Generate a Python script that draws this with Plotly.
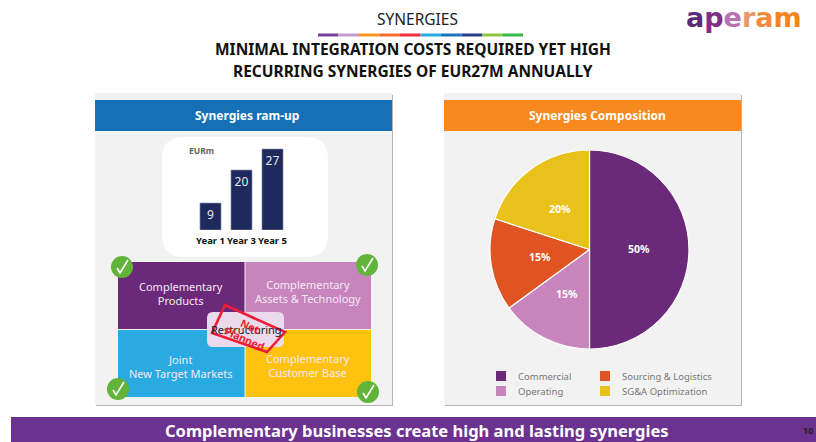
import plotly.graph_objects as go

W, H = 816, 442

# Data
bar_categories = ["Year 1", "Year 3", "Year 5"]
bar_values = [9, 20, 27]
pie_labels = ["Commercial", "Operating", "Sourcing & Logistics", "SG&A Optimization"]
pie_values = [50, 15, 15, 20]
pie_colors = ["#6B2979", "#C884BC", "#E05423", "#E9C11B"]
pie_label_positions = [(639, 249), (567, 294), (540, 257), (560, 209)]
stripe_colors = ["#7B3F98", "#C39BD0", "#F7941D", "#F26B2A", "#EE2E3A",
                 "#29ABE2", "#1A75BC", "#2B3A8C", "#8CC63F", "#39B54A"]
logo_letters = [("a", "#5B2A78"), ("p", "#7E2F86"), ("e", "#B773AE"),
                ("r", "#E59A6A"), ("a", "#F08A3C"), ("m", "#F58220")]
quadrants = [
    (118, 244.5, 262, 329, "#6B2979", "Complementary<br>Products", 181, 293),
    (245.5, 371, 262, 329, "#C884BC", "Complementary<br>Assets & Technology", 308, 291),
    (118, 244.5, 330, 397, "#29ABE2", "Joint<br>New Target Markets", 181, 366),
    (245.5, 371, 330, 397, "#FFC20E", "Complementary<br>Customer Base", 308, 365),
]
checks = [(122, 267), (367, 265), (118, 389), (368, 392)]
legend_items = [(0, 501, 376), (1, 501, 391), (2, 605, 376), (3, 605, 391)]

FONT = "Noto Sans"
px = lambda x: x / W
py = lambda y: 1 - y / H

fig = go.Figure()
shapes, ann = [], []


def P(x, y):
    return f"{px(x):.5f},{py(y):.5f}"


def path(d, fill=None, line=None, lw=0, layer="below"):
    s = dict(type="path", xref="paper", yref="paper", path=d, line=dict(width=lw, color=line or "rgba(0,0,0,0)"), layer=layer)
    if fill:
        s["fillcolor"] = fill
    shapes.append(s)


def rect(x0, y0, x1, y1, fill, layer="below"):
    shapes.append(dict(type="rect", xref="paper", yref="paper", x0=px(x0), x1=px(x1),
                       y0=py(y1), y1=py(y0), fillcolor=fill, line=dict(width=0), layer=layer))


def rrect(x0, y0, x1, y1, r, fill, layer="below"):
    d = (f"M{P(x0+r,y0)} L{P(x1-r,y0)} Q{P(x1,y0)} {P(x1,y0+r)} L{P(x1,y1-r)} Q{P(x1,y1)} {P(x1-r,y1)} "
         f"L{P(x0+r,y1)} Q{P(x0,y1)} {P(x0,y1-r)} L{P(x0,y0+r)} Q{P(x0,y0)} {P(x0+r,y0)} Z")
    path(d, fill=fill, layer=layer)


def text(x, y, s, size, color, bold=False, angle=0, anchor="center", family=FONT):
    ann.append(dict(xref="paper", yref="paper", x=px(x), y=py(y), text=f"<b>{s}</b>" if bold else s,
                    showarrow=False, xanchor=anchor, yanchor="middle", textangle=angle,
                    font=dict(family=family, size=size, color=color), align="center"))


# Panels
for x0, x1, head, title, cx in [(95, 392, "#1570B8", "Synergies ram-up", 248),
                                (444, 741, "#F7891F", "Synergies Composition", 597)]:
    rect(x0 + 1, 95, x1 + 1, 406, "#B5B5B5")
    rect(x0, 93, x1, 405, "#F2F2F2")
    rect(x0, 100, x1, 131, head)
    text(cx, 115.5, title, 12, "white", bold=True)

rrect(162, 137, 328, 257, 22, "white")

# Stripe
for i, c in enumerate(stripe_colors):
    rect(318 + i * 20.5, 33.5, 318 + (i + 1) * 20.5, 36.5, c)

# Header texts
text(418, 19, "SYNERGIES", 15.5, "#222222")
text(413, 49, "MINIMAL INTEGRATION COSTS REQUIRED YET HIGH", 15.5, "#111111", bold=True)
text(413, 71, "RECURRING SYNERGIES OF EUR27M ANNUALLY", 15.5, "#111111", bold=True)
logo = "".join(f'<span style="color:{c}">{l}</span>' for l, c in logo_letters)
text(744, 18, logo, 27, "#6B2979", bold=True, family="DejaVu Sans")

# Bottom banner
rect(11, 417, 816, 442, "#6B3290")
text(417, 430, "Complementary businesses create high and lasting synergies", 16.5, "white", bold=True)
text(808, 430, "10", 9, "#222222", bold=True)

# Quadrants
for x0, x1, y0, y1, c, label, tx, ty in quadrants:
    rect(x0, y0, x1, y1, c)
    text(tx, ty, label, 11, "#F4E9F4")

fig.add_trace(go.Bar(x=bar_categories, y=bar_values, marker=dict(color="#1F2A5C", line=dict(color="#8E97B8", width=0.6)),
                     text=bar_values, textposition="inside", insidetextanchor="end",
                     textfont=dict(family=FONT, size=12, color="#E8E8F0"), cliponaxis=False,
                     showlegend=False, hoverinfo="skip", width=0.68))

fig.add_trace(go.Pie(labels=pie_labels, values=pie_values, sort=False, direction="clockwise",
                     rotation=0, marker=dict(colors=pie_colors, line=dict(color="white", width=1.2)),
                     textinfo="none",
                     domain=dict(x=[px(490), px(689)], y=[py(349), py(150)]), showlegend=False,
                     hoverinfo="skip", automargin=False))
for v, (lx, ly) in zip(pie_values, pie_label_positions):
    text(lx, ly, f"{v}%", 10.5, "white", bold=True)

# Centre box and stamp (drawn above the quadrants)
rrect(207, 312, 284, 347, 6, "#EBD9EC", layer="above")
text(246, 329, "Restructuring", 11, "#222222")
path(f"M{P(225,305)} L{P(285,332)} L{P(267,352)} L{P(212,333)} Z", line="#EE1C35", lw=2.6, layer="above")
text(248, 333, "Not<br>Planned", 10.5, "#EE1C35", bold=True, angle=24)

# Check marks
for cx, cy in checks:
    r = 11
    shapes.append(dict(type="circle", xref="paper", yref="paper", x0=px(cx - r), x1=px(cx + r),
                       y0=py(cy + r), y1=py(cy - r), fillcolor="#62B33A", line=dict(width=0), layer="above"))
    path(f"M{P(cx-5,cy+1)} L{P(cx-2,cy+6)} L{P(cx+6,cy-7)}", line="white", lw=1.6, layer="above")

# Legend
for idx, x, y in legend_items:
    rect(x - 5, y - 5, x + 5, y + 5, pie_colors[idx])
    text(x + 15, y, pie_labels[idx], 9.5, "#777777", anchor="left")

text(201, 150, "EURm", 8.5, "#666666", bold=True)

fig.update_layout(
    width=W, height=H, margin=dict(l=0, r=0, t=0, b=0, pad=0, autoexpand=False), autosize=False,
    paper_bgcolor="white", plot_bgcolor="rgba(0,0,0,0)",
    font=dict(family=FONT),
    xaxis=dict(domain=[px(195), px(288)], showgrid=False, zeroline=False, showline=False, ticks="",
               tickangle=0, ticklabelstandoff=3,
               tickfont=dict(family=FONT, size=9.5, color="#111111", weight="bold"), ticklen=0),
    yaxis=dict(domain=[py(230), py(140)], range=[0, 30], visible=False),
    shapes=shapes, annotations=ann,
)
fig.write_html("out.html", config=dict(displayModeBar=False, responsive=False),
               default_width="816px", default_height="442px",
               post_script="document.body.style.margin='0';document.documentElement.style.overflow='hidden';")
